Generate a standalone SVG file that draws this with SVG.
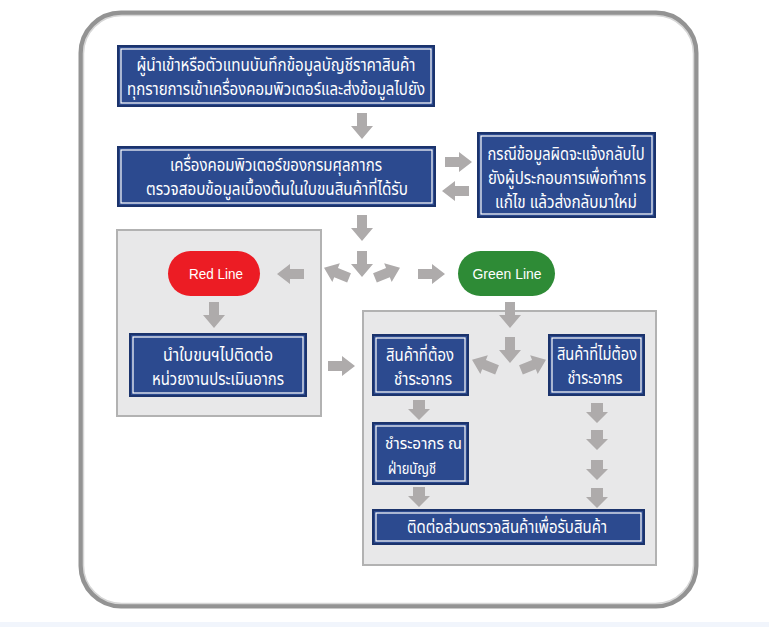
<svg xmlns="http://www.w3.org/2000/svg" width="769" height="627" viewBox="0 0 769 627">
<style>
.nb{fill:#2c4a8f;stroke:#1b336c;stroke-width:2}
.ni{fill:none;stroke:#ffffff;stroke-width:1.2}
.pan{fill:#e8e8e9;stroke:#b2b2b2;stroke-width:2}
.t{fill:#ffffff;font-family:"Noto Sans Thai","Noto Sans","DejaVu Sans",sans-serif;font-size:17px;text-anchor:middle}
.tl{fill:#ffffff;font-family:"Noto Sans Thai","Noto Sans","DejaVu Sans",sans-serif;font-size:16px}
.p{fill:#ffffff;font-family:"Liberation Sans Narrow","Liberation Sans",sans-serif;font-size:15px;text-anchor:middle}
.ar{fill:#aeabab}
</style>
<defs>
<path id="dn" d="M-5,-13 H5 V0 H11 L0,13 L-11,0 H-5 Z"/>
<path id="dns" d="M-6,-10 H6 V-1 H11 L0,10 L-11,-1 H-6 Z"/>
<path id="rt" d="M-13,-5 H1 V-10 L14,0 L1,10 V5 H-13 Z"/>
<path id="lt" d="M13,-5 H-1 V-10 L-14,0 L-1,10 V5 H13 Z"/>
</defs>
<rect width="769" height="627" fill="#ffffff"/>
<rect x="0" y="622" width="769" height="5" fill="#f1f5fc"/>
<g id="frame">
<rect x="81" y="13" width="615" height="593" rx="40" fill="#ffffff" stroke="#939393" stroke-width="5"/>
<rect x="83.5" y="15.5" width="610" height="588" rx="38" fill="none" stroke="#d6d6d6" stroke-width="1.5"/>
</g>
<g id="panel-red"><rect class="pan" x="117" y="230" width="204" height="186"/></g>
<g id="panel-green"><rect class="pan" x="363" y="311" width="293" height="254"/></g>
<g id="connectors" class="ar">
<use href="#dn" x="362" y="126"/>
<use href="#rt" x="458" y="162"/>
<use href="#lt" x="456" y="191"/>
<use href="#dn" x="362" y="228"/>
<use href="#dn" x="362" y="264"/>
<use href="#lt" transform="translate(337,273) rotate(22)"/>
<use href="#rt" transform="translate(387,273) rotate(-22)"/>
<use href="#rt" x="431" y="274"/>
<use href="#lt" x="291" y="274"/>
<use href="#dn" x="214" y="315"/>
<use href="#rt" x="341" y="366"/>
<use href="#dn" x="510" y="315"/>
<use href="#dn" x="510" y="350"/>
<use href="#lt" transform="translate(485,365) rotate(22)"/>
<use href="#rt" transform="translate(533,365) rotate(-22)"/>
<use href="#dns" x="419" y="410"/>
<use href="#dns" x="419" y="497"/>
<use href="#dns" x="597" y="413"/>
<use href="#dns" x="597" y="440"/>
<use href="#dns" x="597" y="470"/>
<use href="#dns" x="597" y="498"/>
</g>
<g id="n1">
<rect class="nb" x="118" y="46" width="316" height="60"/>
<rect class="ni" x="121" y="49" width="310" height="54"/>
<text class="t" x="276" y="71" textLength="279" lengthAdjust="spacingAndGlyphs">ผู้นำเข้าหรือตัวแทนบันทึกข้อมูลบัญชีราคาสินค้า</text>
<text class="t" x="276" y="95" textLength="298" lengthAdjust="spacingAndGlyphs">ทุกรายการเข้าเครื่องคอมพิวเตอร์และส่งข้อมูลไปยัง</text>
</g>
<g id="n2">
<rect class="nb" x="118" y="147" width="317" height="59"/>
<rect class="ni" x="121" y="150" width="311" height="53"/>
<text class="t" x="276" y="171" textLength="212" lengthAdjust="spacingAndGlyphs">เครื่องคอมพิวเตอร์ของกรมศุลกากร</text>
<text class="t" x="277" y="195" textLength="262" lengthAdjust="spacingAndGlyphs">ตรวจสอบข้อมูลเบื้องต้นในใบขนสินค้าที่ได้รับ</text>
</g>
<g id="n3">
<rect class="nb" x="478" y="133" width="177" height="84"/>
<rect class="ni" x="481" y="136" width="171" height="78"/>
<text class="t" x="566" y="160" textLength="157" lengthAdjust="spacingAndGlyphs">กรณีข้อมูลผิดจะแจ้งกลับไป</text>
<text class="t" x="567" y="184" textLength="158" lengthAdjust="spacingAndGlyphs">ยังผู้ประกอบการเพื่อทำการ</text>
<text class="t" x="566" y="208" textLength="142" lengthAdjust="spacingAndGlyphs">แก้ไข แล้วส่งกลับมาใหม่</text>
</g>
<g id="red-line">
<rect x="168" y="251" width="92" height="45" rx="22.5" fill="#ec1c24"/>
<text class="p" x="216" y="279" textLength="54" lengthAdjust="spacingAndGlyphs">Red Line</text>
</g>
<g id="green-line">
<rect x="458" y="251" width="97" height="45" rx="22.5" fill="#2e8b36"/>
<text class="p" x="507" y="279" textLength="69" lengthAdjust="spacingAndGlyphs">Green Line</text>
</g>
<g id="n4">
<rect class="nb" x="130" y="334" width="176" height="62"/>
<rect class="ni" x="133" y="337" width="170" height="56"/>
<text class="t" x="218" y="361" textLength="110" lengthAdjust="spacingAndGlyphs">นำใบขนฯไปติดต่อ</text>
<text class="t" x="218" y="385" textLength="132" lengthAdjust="spacingAndGlyphs">หน่วยงานประเมินอากร</text>
</g>
<g id="n5">
<rect class="nb" x="373" y="335" width="95" height="60"/>
<rect class="ni" x="376" y="338" width="89" height="54"/>
<text class="t" x="420" y="361" textLength="68" lengthAdjust="spacingAndGlyphs">สินค้าที่ต้อง</text>
<text class="t" x="423" y="385" textLength="58" lengthAdjust="spacingAndGlyphs">ชำระอากร</text>
</g>
<g id="n6">
<rect class="nb" x="549" y="335" width="95" height="60"/>
<rect class="ni" x="552" y="338" width="89" height="54"/>
<text class="t" x="597" y="360" textLength="80" lengthAdjust="spacingAndGlyphs">สินค้าที่ไม่ต้อง</text>
<text class="t" x="595" y="384" textLength="55" lengthAdjust="spacingAndGlyphs">ชำระอากร</text>
</g>
<g id="n7">
<rect class="nb" x="373" y="423" width="95" height="61"/>
<rect class="ni" x="376" y="426" width="89" height="55"/>
<text class="tl" x="385" y="449" textLength="77" lengthAdjust="spacingAndGlyphs">ชำระอากร ณ</text>
<text class="tl" x="388" y="474" textLength="48" lengthAdjust="spacingAndGlyphs">ฝ่ายบัญชี</text>
</g>
<g id="n8">
<rect class="nb" x="373" y="510" width="271" height="34"/>
<rect class="ni" x="376" y="513" width="265" height="28"/>
<text class="t" x="507" y="533" textLength="200" lengthAdjust="spacingAndGlyphs">ติดต่อส่วนตรวจสินค้าเพื่อรับสินค้า</text>
</g>
</svg>
